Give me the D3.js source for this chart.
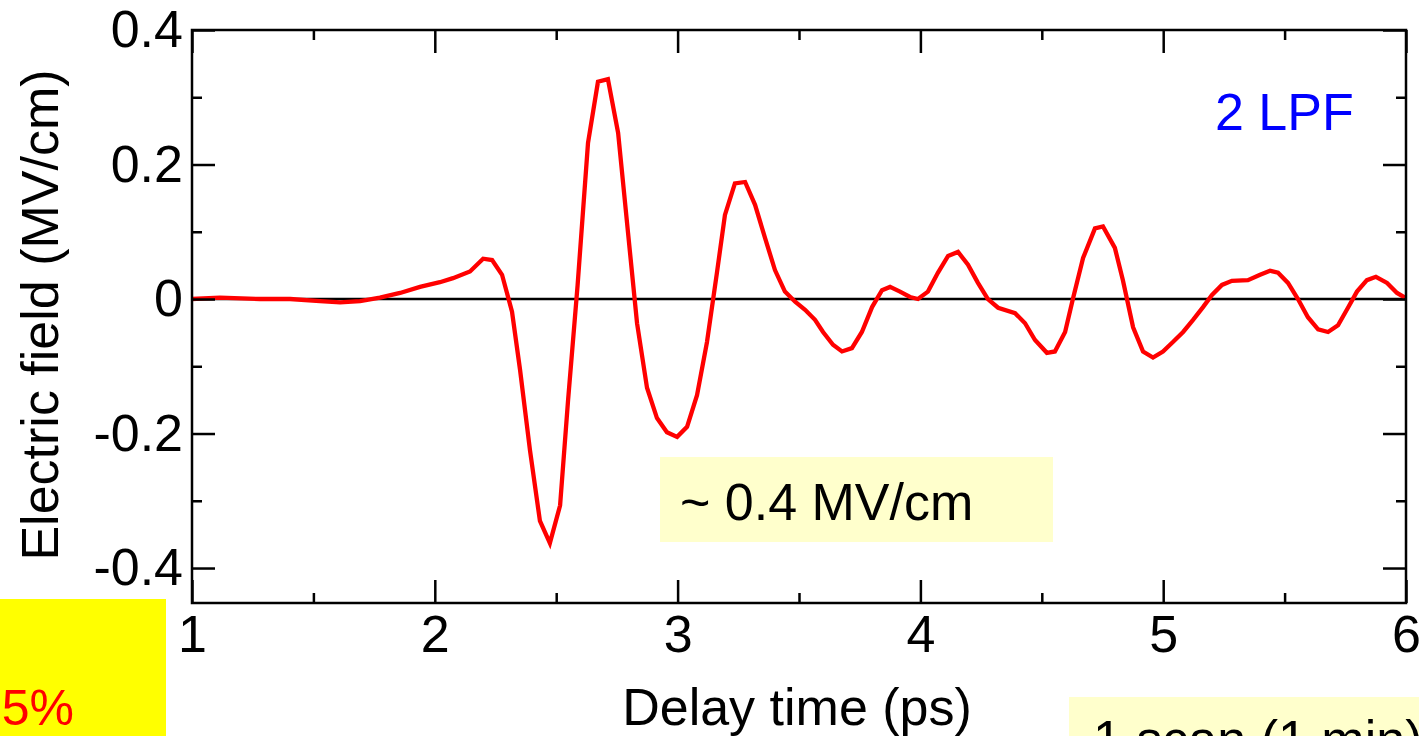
<!DOCTYPE html>
<html>
<head>
<meta charset="utf-8">
<script src="https://cdn.jsdelivr.net/npm/d3@7"></script>
<style>
	html, body { margin: 0; padding: 0; background: #fff; overflow: hidden; }
	svg { display: block; font-family: "Liberation Sans", Arial, sans-serif; }
</style>
</head>
<body>
<div id="chart"></div>
<script>
// delay time (ps) and field (MV/cm)
var delayTime = [
	1.000, 1.115, 1.280, 1.404, 1.527, 1.610, 1.692, 1.774, 1.857, 1.939,
	2.021, 2.075, 2.145, 2.199, 2.236, 2.277, 2.318, 2.351, 2.392, 2.433,
	2.474, 2.516, 2.549, 2.588, 2.631, 2.672, 2.713, 2.755, 2.796, 2.833,
	2.874, 2.915, 2.956, 2.998, 3.039, 3.080, 3.121, 3.162, 3.195, 3.236,
	3.278, 3.319, 3.360, 3.401, 3.442, 3.484, 3.525, 3.566, 3.599, 3.640,
	3.677, 3.718, 3.759, 3.801, 3.842, 3.875, 3.916, 3.957, 3.990, 4.031,
	4.072, 4.114, 4.155, 4.196, 4.237, 4.278, 4.320, 4.390, 4.431, 4.472,
	4.521, 4.554, 4.596, 4.628, 4.670, 4.719, 4.752, 4.801, 4.834, 4.876,
	4.917, 4.958, 4.999, 5.040, 5.082, 5.123, 5.164, 5.201, 5.242, 5.283,
	5.349, 5.399, 5.440, 5.473, 5.514, 5.555, 5.596, 5.638, 5.679, 5.720,
	5.761, 5.798, 5.839, 5.876, 5.922, 5.963, 5.996
];
var electricField = [
	0.000, 0.002, 0.000, 0.000, -0.003, -0.005, -0.003, 0.002, 0.009, 0.018,
	0.025, 0.031, 0.041, 0.060, 0.058, 0.036, -0.019, -0.105, -0.225, -0.330,
	-0.363, -0.307, -0.150, 0.020, 0.232, 0.323, 0.327, 0.247, 0.098, -0.036,
	-0.132, -0.177, -0.198, -0.205, -0.190, -0.143, -0.064, 0.039, 0.125, 0.172,
	0.174, 0.140, 0.091, 0.043, 0.011, -0.004, -0.016, -0.031, -0.049, -0.068,
	-0.078, -0.073, -0.049, -0.012, 0.013, 0.018, 0.011, 0.003, 0.000, 0.011,
	0.039, 0.064, 0.070, 0.051, 0.024, 0.000, -0.013, -0.021, -0.036, -0.061,
	-0.080, -0.078, -0.049, 0.000, 0.061, 0.105, 0.108, 0.076, 0.028, -0.042,
	-0.078, -0.087, -0.078, -0.064, -0.049, -0.031, -0.012, 0.006, 0.021, 0.027,
	0.028, 0.036, 0.042, 0.039, 0.024, 0.000, -0.027, -0.045, -0.049, -0.039,
	-0.013, 0.011, 0.028, 0.033, 0.024, 0.009, 0.002
];
var xMajorTicks = [1, 2, 3, 4, 5, 6],
	xMinorTicks = [1.5, 2.5, 3.5, 4.5, 5.5],
	yMajorTicks = [-0.4, -0.2, 0, 0.2, 0.4],
	yMinorTicks = [-0.3, -0.1, 0.1, 0.3],
	yTickLabels = ["-0.4", "-0.2", "0", "0.2", "0.4"];

(function() {
	"use strict";

	var chartWidth = 1419,
		chartHeight = 736,
		margin = { top: 30, right: 13, bottom: 133, left: 192 },
		width = chartWidth - margin.left - margin.right,
		height = chartHeight - margin.top - margin.bottom,
		majorLen = 23,
		minorLen = 10,
		fontSize = 52,
		svg, g, x, y, points;

	svg = d3.select("#chart")
		.append("svg")
		.attr("width", chartWidth)
		.attr("height", chartHeight);

	g = svg.append("g")
		.attr("transform", "translate(" + margin.left + "," + margin.top + ")");

	x = d3.scaleLinear().domain([1, 6]).range([0, width]);
	y = d3.scaleLinear().domain([0.4, -0.452]).range([0, height]);

	points = delayTime.map(function(t, i) {
		return { t: t, v: electricField[i] };
	});

	// zero line under the trace
	g.append("line")
		.attr("x1", 0)
		.attr("x2", width)
		.attr("y1", y(0))
		.attr("y2", y(0))
		.style("stroke", "#000")
		.style("stroke-width", 2.5);

	g.append("path")
		.datum(points)
		.attr("d", d3.line()
			.x(function(d) { return x(d.t); })
			.y(function(d) { return y(d.v); }))
		.style("fill", "none")
		.style("stroke", "#ff0000")
		.style("stroke-width", 4.3)
		.style("stroke-linejoin", "miter");

	function styleAxis(sel) {
		sel.select(".domain").remove();
		sel.selectAll("line").style("stroke", "#000").style("stroke-width", 2.5);
		sel.selectAll("text")
			.style("font-family", "'Liberation Sans', Arial, sans-serif")
			.style("font-size", fontSize + "px")
			.style("fill", "#000");
	}

	// ticks point inward on all four sides
	g.append("g")
		.attr("transform", "translate(0," + height + ")")
		.call(d3.axisBottom(x).tickValues(xMajorTicks).tickSize(-majorLen).tickSizeOuter(0)
			.tickPadding(12).tickFormat(d3.format("d")))
		.call(styleAxis);
	g.append("g")
		.attr("transform", "translate(0," + height + ")")
		.call(d3.axisBottom(x).tickValues(xMinorTicks).tickSize(-minorLen).tickSizeOuter(0).tickFormat(""))
		.call(styleAxis);
	g.append("g")
		.call(d3.axisTop(x).tickValues(xMajorTicks).tickSize(-majorLen).tickSizeOuter(0).tickFormat(""))
		.call(styleAxis);
	g.append("g")
		.call(d3.axisTop(x).tickValues(xMinorTicks).tickSize(-minorLen).tickSizeOuter(0).tickFormat(""))
		.call(styleAxis);

	g.append("g")
		.call(d3.axisLeft(y).tickValues(yMajorTicks).tickSize(-majorLen).tickSizeOuter(0)
			.tickPadding(9).tickFormat(function(d, i) { return yTickLabels[i]; }))
		.call(styleAxis);
	g.append("g")
		.call(d3.axisLeft(y).tickValues(yMinorTicks).tickSize(-minorLen).tickSizeOuter(0).tickFormat(""))
		.call(styleAxis);
	g.append("g")
		.attr("transform", "translate(" + width + ",0)")
		.call(d3.axisRight(y).tickValues(yMajorTicks).tickSize(-majorLen).tickSizeOuter(0).tickFormat(""))
		.call(styleAxis);
	g.append("g")
		.attr("transform", "translate(" + width + ",0)")
		.call(d3.axisRight(y).tickValues(yMinorTicks).tickSize(-minorLen).tickSizeOuter(0).tickFormat(""))
		.call(styleAxis);

	// frame
	g.append("rect")
		.attr("width", width)
		.attr("height", height)
		.style("fill", "none")
		.style("stroke", "#000")
		.style("stroke-width", 2.5);

	// axis titles
	svg.append("text")
		.attr("x", margin.left + width / 2 - 2)
		.attr("y", 725)
		.attr("text-anchor", "middle")
		.style("font-size", fontSize + "px")
		.text("Delay time (ps)");

	svg.append("text")
		.attr("transform", "translate(58," + (margin.top + 285) + ") rotate(-90)")
		.attr("text-anchor", "middle")
		.style("font-size", fontSize + "px")
		.text("Electric field (MV/cm)");

	// annotations
	svg.append("text")
		.attr("x", 1215)
		.attr("y", 130)
		.style("font-size", fontSize + "px")
		.style("fill", "#0000ff")
		.text("2 LPF");

	svg.append("rect")
		.attr("x", 660)
		.attr("y", 457)
		.attr("width", 393)
		.attr("height", 85)
		.style("fill", "#ffffcc");
	svg.append("text")
		.attr("x", 680)
		.attr("y", 520)
		.style("font-size", fontSize + "px")
		.text("~ 0.4 MV/cm");

	svg.append("rect")
		.attr("x", 0)
		.attr("y", 599)
		.attr("width", 166)
		.attr("height", 137)
		.style("fill", "#ffff00");
	svg.append("text")
		.attr("x", 74)
		.attr("y", 725)
		.attr("text-anchor", "end")
		.style("font-size", "50px")
		.style("fill", "#ff0000")
		.text("5%");

	svg.append("rect")
		.attr("x", 1069)
		.attr("y", 697)
		.attr("width", 350)
		.attr("height", 39)
		.style("fill", "#ffffcc");
	svg.append("text")
		.attr("x", 1093)
		.attr("y", 757)
		.style("font-size", fontSize + "px")
		.text("1 scan (1 min)");
})();
</script>
</body>
</html>
